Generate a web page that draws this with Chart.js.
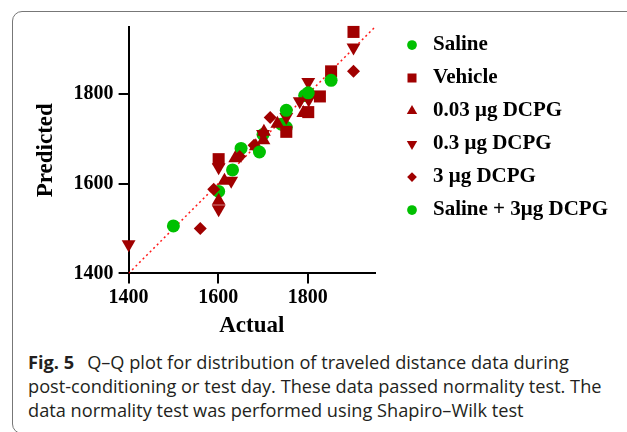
<!DOCTYPE html>
<html>
<head>
<meta charset="utf-8">
<script src="https://cdn.jsdelivr.net/npm/chart.js@4/dist/chart.umd.min.js"></script>
<style>
  html, body { margin: 0; padding: 0; background: #fff; }
  body { width: 627px; height: 432px; overflow: hidden; position: relative; }
  .frame {
    position: absolute; left: 12px; top: 11px; width: 700px; height: 423px;
    border: 1px solid #777; border-radius: 10px; box-sizing: border-box;
  }
  #qq { position: absolute; left: 0; top: 0; }
  .caption {
    position: absolute; left: 28px; top: 350px;
    font: 18.2px "Open Sans", sans-serif; line-height: 24px;
    color: #231f20; white-space: nowrap;
  }
  .caption b { font-weight: 700; margin-right: 13px; }
</style>
</head>
<body>
<div class="frame"></div>
<canvas id="qq" width="627" height="340"></canvas>
<div class="caption">
  <div><b>Fig. 5</b>Q–Q plot for distribution of traveled distance data during</div>
  <div>post-conditioning or test day. These data passed normality test. The</div>
  <div>data normality test was performed using Shapiro–Wilk test</div>
</div>
<script>
// groups, in legend order
const groupNames = ['Saline', 'Vehicle', '0.03 μg DCPG', '0.3 μg DCPG', '3 μg DCPG', 'Saline + 3μg DCPG'];

// [actual, predicted] pairs per group
const saline = [[1500, 1506], [1632, 1631], [1692, 1671], [1752, 1764], [1801, 1803], [1852, 1831]];
const vehicle = [[1601, 1655], [1752, 1716], [1801, 1760], [1827, 1795], [1852, 1851], [1902, 1939]];
const dcpg003 = [[1601, 1562], [1614, 1607], [1638, 1657], [1684, 1684], [1701, 1697], [1702, 1716], [1732, 1734], [1790, 1758]];
const dcpg03 = [[1400, 1465], [1601, 1543], [1601, 1637], [1629, 1607], [1700, 1711], [1752, 1749], [1782, 1784], [1802, 1788], [1801, 1827], [1902, 1904]];
const dcpg3 = [[1560, 1500], [1590, 1588], [1648, 1661], [1680, 1686], [1716, 1748], [1902, 1851]];
const salineDcpg = [[1601, 1583], [1651, 1679], [1700, 1710], [1741, 1733], [1752, 1726], [1793, 1797]];

const groups = [saline, vehicle, dcpg003, dcpg03, dcpg3, salineDcpg];

// y = x reference line and axis settings
const identityLine = [1400, 1950];
const axisRange = [1400, 1950];
const xTickValues = [1400, 1600, 1800];
const yTickValues = [1400, 1600, 1800];

const darkRed = '#a00000';
const green = '#00c000';
const markerStyles = [
    { color: green, shape: 'circle', radius: 6.5, rotation: 0 },
    { color: darkRed, shape: 'rect', radius: 8.5, rotation: 0 },
    { color: darkRed, shape: 'triangle', radius: 8, rotation: 0 },
    { color: darkRed, shape: 'triangle', radius: 8, rotation: 180 },
    { color: darkRed, shape: 'rectRot', radius: 6.5, rotation: 0 },
    { color: green, shape: 'circle', radius: 6.5, rotation: 0 }
];

const serif = '"Liberation Serif", "Times New Roman", serif';

const datasets = groups.map((points, i) => ({
    label: groupNames[i],
    data: points.map(([x, y]) => ({ x, y })),
    pointStyle: markerStyles[i].shape,
    pointRotation: markerStyles[i].rotation,
    pointRadius: markerStyles[i].radius,
    pointHoverRadius: markerStyles[i].radius,
    pointBackgroundColor: markerStyles[i].color,
    pointBorderColor: markerStyles[i].color,
    pointBorderWidth: 0,
    showLine: false,
    clip: false
}));

// dotted identity line, last so it sits under the markers
datasets.push({
    label: 'identity',
    data: identityLine.map(v => ({ x: v, y: v })),
    showLine: true,
    borderColor: 'rgba(255, 0, 0, 0.9)',
    borderWidth: 1.5,
    borderDash: [2, 3],
    pointRadius: 0,
    fill: false
});

// legend on the right, drawn with the same point shapes
const sideLegend = {
    id: 'sideLegend',
    afterDraw(chart) {
        const ctx = chart.ctx;
        const area = chart.chartArea;
        const markerX = area.right + 37;
        const textX = markerX + 21;
        ctx.save();
        ctx.font = 'bold 21px ' + serif;
        ctx.textBaseline = 'middle';
        groupNames.forEach((name, i) => {
            const y = area.top + 18 + i * 33;
            const s = markerStyles[i];
            ctx.fillStyle = s.color;
            Chart.helpers.drawPoint(ctx, {
                pointStyle: s.shape,
                rotation: s.rotation,
                radius: s.radius * 0.75,
                borderWidth: 0
            }, markerX, y);
            ctx.fillStyle = '#000';
            ctx.fillText(name, textX, y);
        });
        ctx.restore();
    }
};

function axisOptions(position, title, tickValues, tickPadding, titlePadding) {
    return {
        type: 'linear',
        position: position,
        min: axisRange[0],
        max: axisRange[1],
        afterBuildTicks: axis => { axis.ticks = tickValues.map(v => ({ value: v })); },
        border: { display: true, color: '#000', width: 2 },
        grid: { drawOnChartArea: false, drawTicks: true, tickLength: 10, color: '#000', lineWidth: 2 },
        ticks: {
            color: '#000',
            padding: tickPadding,
            font: { family: serif, size: 20, weight: 'bold' },
            callback: v => String(v)
        },
        title: {
            display: true,
            text: title,
            color: '#000',
            padding: titlePadding,
            font: { family: serif, size: 23, weight: 'bold' }
        }
    };
}

new Chart(document.getElementById('qq').getContext('2d'), {
    type: 'scatter',
    data: { datasets: datasets },
    options: {
        responsive: false,
        animation: false,
        layout: { padding: { left: 32, top: 27, right: 252, bottom: 0 } },
        scales: {
            x: axisOptions('bottom', 'Actual', xTickValues, 2, { top: 1, bottom: 0 }),
            y: axisOptions('left', 'Predicted', yTickValues, 5, { top: 0, bottom: 9 })
        },
        plugins: {
            legend: { display: false },
            tooltip: { enabled: false }
        }
    },
    plugins: [sideLegend]
});
</script>
</body>
</html>
